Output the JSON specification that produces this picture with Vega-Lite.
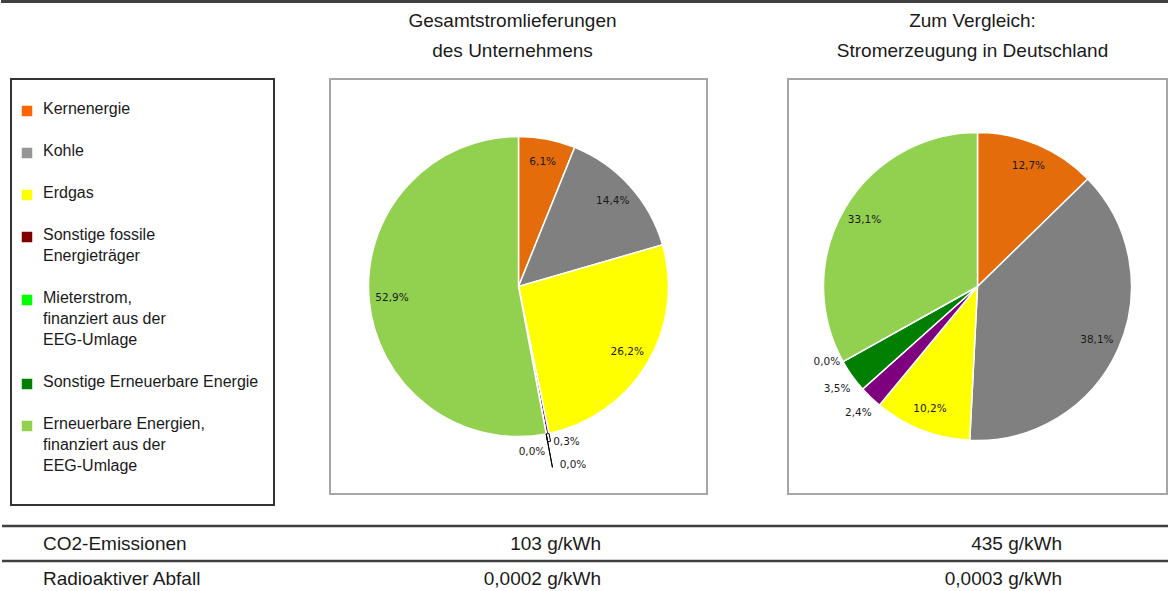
{
  "$schema": "https://vega.github.io/schema/vega-lite/v6.json",
  "padding": 0,
  "background": "white",
  "config": {
    "view": {"stroke": null},
    "title": {"font": "Liberation Sans", "fontSize": 19, "fontWeight": "normal", "color": "#1a1a1a", "lineHeight": 30, "offset": 18, "anchor": "middle"},
    "text": {"font": "DejaVu Sans", "fontSize": 10.5, "color": "#1a1a1a"},
    "locale": {"number": {"decimal": ",", "thousands": ".", "grouping": [3], "currency": ["", " €"]}}
  },
  "datasets": {
    "gesamt": [
      {"quelle": "Kernenergie", "rang": 1, "anteil": 0.061},
      {"quelle": "Kohle", "rang": 2, "anteil": 0.144},
      {"quelle": "Erdgas", "rang": 3, "anteil": 0.262},
      {"quelle": "Sonstige fossile Energieträger", "rang": 4, "anteil": 0.003},
      {"quelle": "Sonstige Erneuerbare Energie", "rang": 5, "anteil": 0.0},
      {"quelle": "Mieterstrom, finanziert aus der EEG-Umlage", "rang": 6, "anteil": 0.0},
      {"quelle": "Erneuerbare Energien, finanziert aus der EEG-Umlage", "rang": 7, "anteil": 0.529}
    ],
    "deutschland": [
      {"quelle": "Kernenergie", "rang": 1, "anteil": 0.127},
      {"quelle": "Kohle", "rang": 2, "anteil": 0.381},
      {"quelle": "Erdgas", "rang": 3, "anteil": 0.102},
      {"quelle": "Sonstige fossile Energieträger", "rang": 4, "anteil": 0.024},
      {"quelle": "Sonstige Erneuerbare Energie", "rang": 5, "anteil": 0.035},
      {"quelle": "Mieterstrom, finanziert aus der EEG-Umlage", "rang": 6, "anteil": 0.0},
      {"quelle": "Erneuerbare Energien, finanziert aus der EEG-Umlage", "rang": 7, "anteil": 0.331}
    ],
    "legende": [
      {"quelle": "Kernenergie"},
      {"quelle": "Kohle"},
      {"quelle": "Erdgas"},
      {"quelle": "Sonstige fossile Energieträger"},
      {"quelle": "Mieterstrom, finanziert aus der EEG-Umlage"},
      {"quelle": "Sonstige Erneuerbare Energie"},
      {"quelle": "Erneuerbare Energien, finanziert aus der EEG-Umlage"}
    ],
    "tabelle": [
      {"kennzahl": "CO2-Emissionen", "gesamt": "103 g/kWh", "deutschland": "435 g/kWh"},
      {"kennzahl": "Radioaktiver Abfall", "gesamt": "0,0002 g/kWh", "deutschland": "0,0003 g/kWh"}
    ]
  },
  "spacing": 8,
  "vconcat": [
    {
      "width": 1166, "height": 1,
      "view": {"stroke": "#404040", "strokeWidth": 2},
      "data": {"values": []},
      "mark": {"type": "point", "opacity": 0},
      "encoding": {}
    },
    {
      "spacing": 18,
      "vconcat": [
        {
          "spacing": 1,
          "hconcat": [
            {
              "width": 7, "height": 1,
              "view": {"fill": "white", "stroke": null},
              "data": {"values": []},
              "mark": {"type": "point", "opacity": 0},
              "encoding": {}
            },
            {
              "spacing": 50,
              "hconcat": [
                {
                  "width": 263, "height": 426,
                  "view": {"stroke": "#333333", "strokeWidth": 2},
                  "title": {"text": [" ", " "]},
                  "data": {"name": "legende"},
                  "mark": {"type": "square", "size": 0},
                  "encoding": {
                    "color": {
                      "field": "quelle", "type": "nominal",
                      "scale": {
                        "domain": ["Kernenergie", "Kohle", "Erdgas", "Sonstige fossile Energieträger", "Mieterstrom, finanziert aus der EEG-Umlage", "Sonstige Erneuerbare Energie", "Erneuerbare Energien, finanziert aus der EEG-Umlage"],
                        "range": ["#ff6600", "#969696", "#ffff00", "#800000", "#00ff00", "#008000", "#92d050"]
                      },
                      "legend": {
                        "orient": "none", "legendX": 17, "legendY": 102, "title": null, "padding": 0,
                        "symbolType": "square", "symbolSize": 110, "symbolStrokeWidth": 0, "symbolOpacity": 1,
                        "labelFont": "Liberation Sans", "labelFontSize": 16, "labelColor": "#1a1a1a",
                        "labelOffset": 8, "labelLimit": 300, "labelBaseline": "top", "rowPadding": 26,
                        "labelExpr": "datum.label == 'Sonstige fossile Energieträger' ? ['Sonstige fossile', 'Energieträger'] : datum.label == 'Mieterstrom, finanziert aus der EEG-Umlage' ? ['Mieterstrom,', 'finanziert aus der', 'EEG-Umlage'] : datum.label == 'Erneuerbare Energien, finanziert aus der EEG-Umlage' ? ['Erneuerbare Energien,', 'finanziert aus der', 'EEG-Umlage'] : datum.label",
                        "encode": {"labels": {"update": {"lineHeight": {"value": 21}, "dy": {"value": -10}}}}
                      }
                    }
                  }
                },
                {
                  "spacing": 79,
                  "hconcat": [
                    {
                      "width": 377, "height": 415,
                      "view": {"stroke": "#a6a6a6", "strokeWidth": 2},
                      "title": {"text": ["Gesamtstromlieferungen", "des Unternehmens"], "dx": -6},
                      "data": {"name": "gesamt"},
                      "encoding": {
                        "theta": {"field": "anteil", "type": "quantitative", "stack": true},
                        "order": {"field": "rang", "type": "quantitative"}
                      },
                      "layer": [
                        {
                          "mark": {"type": "arc", "outerRadius": 150, "stroke": "white", "strokeWidth": 1.5},
                          "encoding": {
                            "fill": {
                              "field": "quelle", "type": "nominal", "legend": null,
                              "scale": {
                                "domain": ["Kernenergie", "Kohle", "Erdgas", "Sonstige fossile Energieträger", "Mieterstrom, finanziert aus der EEG-Umlage", "Sonstige Erneuerbare Energie", "Erneuerbare Energien, finanziert aus der EEG-Umlage"],
                                "range": ["#e46c0a", "#808080", "#ffff00", "#7f007f", "#00ff00", "#007f00", "#92d050"]
                              }
                            }
                          }
                        },
                        {
                          "mark": {"type": "arc", "outerRadius": 184, "innerRadius": 150, "fillOpacity": 0, "stroke": "#000000", "strokeWidth": 1},
                          "encoding": {
                            "detail": {"field": "quelle", "type": "nominal"},
                            "strokeOpacity": {"condition": {"test": "datum.quelle == 'Mieterstrom, finanziert aus der EEG-Umlage'", "value": 1}, "value": 0}
                          }
                        },
                        {
                          "mark": {"type": "arc", "outerRadius": 158, "innerRadius": 150, "fillOpacity": 0, "stroke": "#000000", "strokeWidth": 1},
                          "encoding": {
                            "detail": {"field": "quelle", "type": "nominal"},
                            "strokeOpacity": {"condition": {"test": "datum.quelle == 'Sonstige fossile Energieträger'", "value": 1}, "value": 0}
                          }
                        },
                        {
                          "mark": {"type": "text", "radius": 127},
                          "encoding": {
                            "detail": {"field": "quelle", "type": "nominal"},
                            "text": {"field": "anteil", "type": "quantitative", "format": ".1%"},
                            "opacity": {"condition": {"test": "datum.anteil >= 0.05", "value": 1}, "value": 0}
                          }
                        },
                        {
                          "mark": {"type": "text", "radius": 160, "dx": 17, "dy": -1},
                          "encoding": {
                            "detail": {"field": "quelle", "type": "nominal"},
                            "text": {"field": "anteil", "type": "quantitative", "format": ".1%"},
                            "opacity": {"condition": {"test": "datum.quelle == 'Sonstige fossile Energieträger'", "value": 1}, "value": 0}
                          }
                        },
                        {
                          "mark": {"type": "text", "radius": 160, "dx": -16, "dy": 8},
                          "encoding": {
                            "detail": {"field": "quelle", "type": "nominal"},
                            "text": {"field": "anteil", "type": "quantitative", "format": ".1%"},
                            "opacity": {"condition": {"test": "datum.quelle == 'Sonstige Erneuerbare Energie'", "value": 1}, "value": 0}
                          }
                        },
                        {
                          "mark": {"type": "text", "radius": 160, "dx": 25, "dy": 21},
                          "encoding": {
                            "detail": {"field": "quelle", "type": "nominal"},
                            "text": {"field": "anteil", "type": "quantitative", "format": ".1%"},
                            "opacity": {"condition": {"test": "datum.quelle == 'Mieterstrom, finanziert aus der EEG-Umlage'", "value": 1}, "value": 0}
                          }
                        }
                      ]
                    },
                    {
                      "width": 379, "height": 415,
                      "view": {"stroke": "#a6a6a6", "strokeWidth": 2},
                      "title": {"text": ["Zum Vergleich:", "Stromerzeugung in Deutschland"], "dx": -5},
                      "data": {"name": "deutschland"},
                      "encoding": {
                        "theta": {"field": "anteil", "type": "quantitative", "stack": true},
                        "order": {"field": "rang", "type": "quantitative"}
                      },
                      "layer": [
                        {
                          "mark": {"type": "arc", "outerRadius": 154, "stroke": "white", "strokeWidth": 1.5},
                          "encoding": {
                            "fill": {
                              "field": "quelle", "type": "nominal", "legend": null,
                              "scale": {
                                "domain": ["Kernenergie", "Kohle", "Erdgas", "Sonstige fossile Energieträger", "Mieterstrom, finanziert aus der EEG-Umlage", "Sonstige Erneuerbare Energie", "Erneuerbare Energien, finanziert aus der EEG-Umlage"],
                                "range": ["#e46c0a", "#808080", "#ffff00", "#7f007f", "#00ff00", "#007f00", "#92d050"]
                              }
                            }
                          }
                        },
                        {
                          "mark": {"type": "text", "radius": 131},
                          "encoding": {
                            "detail": {"field": "quelle", "type": "nominal"},
                            "text": {"field": "anteil", "type": "quantitative", "format": ".1%"},
                            "opacity": {"condition": {"test": "datum.anteil >= 0.05", "value": 1}, "value": 0}
                          }
                        },
                        {
                          "mark": {"type": "text", "radius": 176, "dx": 3},
                          "encoding": {
                            "detail": {"field": "quelle", "type": "nominal"},
                            "text": {"field": "anteil", "type": "quantitative", "format": ".1%"},
                            "opacity": {"condition": {"test": "datum.quelle == 'Sonstige fossile Energieträger' || datum.quelle == 'Sonstige Erneuerbare Energie'", "value": 1}, "value": 0}
                          }
                        },
                        {
                          "mark": {"type": "text", "radius": 176, "dx": 3, "dy": -10},
                          "encoding": {
                            "detail": {"field": "quelle", "type": "nominal"},
                            "text": {"field": "anteil", "type": "quantitative", "format": ".1%"},
                            "opacity": {"condition": {"test": "datum.quelle == 'Mieterstrom, finanziert aus der EEG-Umlage'", "value": 1}, "value": 0}
                          }
                        }
                      ]
                    }
                  ]
                }
              ]
            }
          ]
        },
        {
          "spacing": 0,
          "bounds": "flush",
          "hconcat": [
            {
              "width": 599, "height": 70,
              "data": {"name": "tabelle"},
              "encoding": {
                "y": {"field": "kennzahl", "type": "nominal", "sort": null, "axis": null, "scale": {"type": "band", "paddingInner": 0, "paddingOuter": 0}}
              },
              "layer": [
                {
                  "mark": {"type": "rule", "color": "#404040", "strokeWidth": 2.5},
                  "encoding": {"y": {"field": "kennzahl", "type": "nominal", "sort": null, "axis": null, "bandPosition": 0, "scale": {"type": "band", "paddingInner": 0, "paddingOuter": 0}}}
                },
                {
                  "mark": {"type": "text", "align": "left", "dx": 41, "dy": 0, "font": "Liberation Sans", "fontSize": 19, "color": "#1a1a1a"},
                  "encoding": {"x": {"value": 0}, "text": {"field": "kennzahl", "type": "nominal"}}
                },
                {
                  "mark": {"type": "text", "align": "right", "dy": 0, "font": "Liberation Sans", "fontSize": 19, "color": "#1a1a1a"},
                  "encoding": {"x": {"value": "width"}, "text": {"field": "gesamt", "type": "nominal"}}
                }
              ]
            },
            {
              "width": 461, "height": 70,
              "data": {"name": "tabelle"},
              "encoding": {
                "y": {"field": "kennzahl", "type": "nominal", "sort": null, "axis": null, "scale": {"type": "band", "paddingInner": 0, "paddingOuter": 0}}
              },
              "layer": [
                {
                  "mark": {"type": "rule", "color": "#404040", "strokeWidth": 2.5},
                  "encoding": {"y": {"field": "kennzahl", "type": "nominal", "sort": null, "axis": null, "bandPosition": 0, "scale": {"type": "band", "paddingInner": 0, "paddingOuter": 0}}}
                },
                {
                  "mark": {"type": "text", "align": "right", "dy": 0, "font": "Liberation Sans", "fontSize": 19, "color": "#1a1a1a"},
                  "encoding": {"x": {"value": "width"}, "text": {"field": "deutschland", "type": "nominal"}}
                }
              ]
            },
            {
              "width": 108, "height": 70,
              "data": {"name": "tabelle"},
              "mark": {"type": "rule", "color": "#404040", "strokeWidth": 2.5},
              "encoding": {"y": {"field": "kennzahl", "type": "nominal", "sort": null, "axis": null, "bandPosition": 0, "scale": {"type": "band", "paddingInner": 0, "paddingOuter": 0}}}
            }
          ]
        }
      ]
    }
  ]
}
